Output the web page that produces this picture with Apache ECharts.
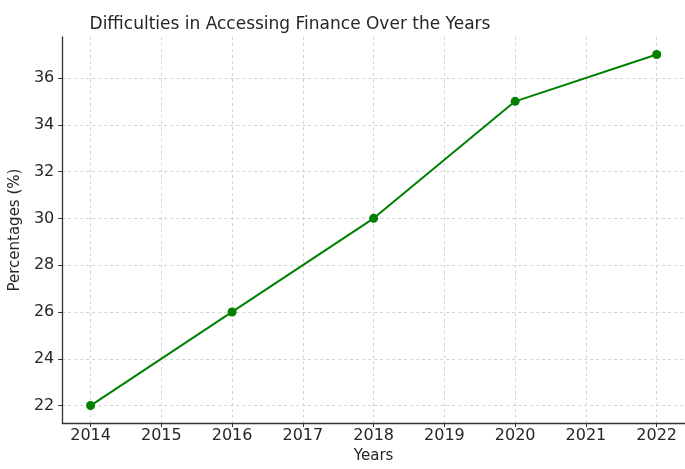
<!DOCTYPE html>
<html>
<head>
<meta charset="utf-8">
<script src="https://cdn.jsdelivr.net/npm/echarts@6/dist/echarts.min.js"></script>
<style>
html,body{margin:0;padding:0;background:#fff;}
#chart{width:685px;height:469px;}
</style>
</head>
<body>
<div id="chart"></div>
<script>
var years = [2014, 2016, 2018, 2020, 2022];
var percentages = [22, 26, 30, 35, 37];
var xTicks = [2014, 2015, 2016, 2017, 2018, 2019, 2020, 2021, 2022];
var yTicks = [22, 24, 26, 28, 30, 32, 34, 36];

var font = 'DejaVu Sans';
var chart = echarts.init(document.getElementById('chart'), null, {renderer: 'canvas'});
var data = years.map(function (y, i) { return [y, percentages[i]]; });

chart.setOption({
  backgroundColor: '#ffffff',
  animation: false,
  title: {
    text: 'Difficulties in Accessing Finance Over the Years',
    left: 285,
    top: 11,
    textAlign: 'center',
    textStyle: {fontFamily: font, fontSize: 17, fontWeight: 'normal', color: '#262626'}
  },
  grid: {left: 61, top: 37, width: 625, height: 389, containLabel: false},
  xAxis: {
    type: 'value',
    min: 2013.6,
    max: 2022.4,
    name: 'Years',
    nameLocation: 'middle',
    nameGap: 25,
    nameTextStyle: {fontFamily: font, fontSize: 15, color: '#262626'},
    axisLine: {show: true, onZero: false, lineStyle: {color: '#333', width: 1.3}},
    axisTick: {show: true, length: 4, inside: false, customValues: xTicks, lineStyle: {color: '#333', width: 1}},
    axisLabel: {customValues: xTicks, fontFamily: font, fontSize: 16, color: '#262626', margin: 5,
      formatter: function (v) { return String(v); }},
    splitLine: {show: true, lineStyle: {color: '#d4d4d4', type: [3, 3], width: 1}}
  },
  yAxis: {
    type: 'value',
    min: 21.25,
    max: 37.75,
    name: 'Percentages (%)',
    nameLocation: 'middle',
    nameGap: 33,
    nameTextStyle: {fontFamily: font, fontSize: 15, color: '#262626'},
    axisLine: {show: true, onZero: false, lineStyle: {color: '#333', width: 1.3}},
    axisTick: {show: true, length: 4, inside: false, customValues: yTicks, lineStyle: {color: '#333', width: 1}},
    axisLabel: {customValues: yTicks, fontFamily: font, fontSize: 16, color: '#262626', margin: 8},
    splitLine: {show: true, lineStyle: {color: '#d4d4d4', type: [3, 3], width: 1}}
  },
  series: [{
    type: 'line',
    data: data,
    symbol: 'circle',
    symbolSize: 9,
    lineStyle: {color: '#008000', width: 2},
    itemStyle: {color: '#008000'}
  }]
});
</script>
</body>
</html>
